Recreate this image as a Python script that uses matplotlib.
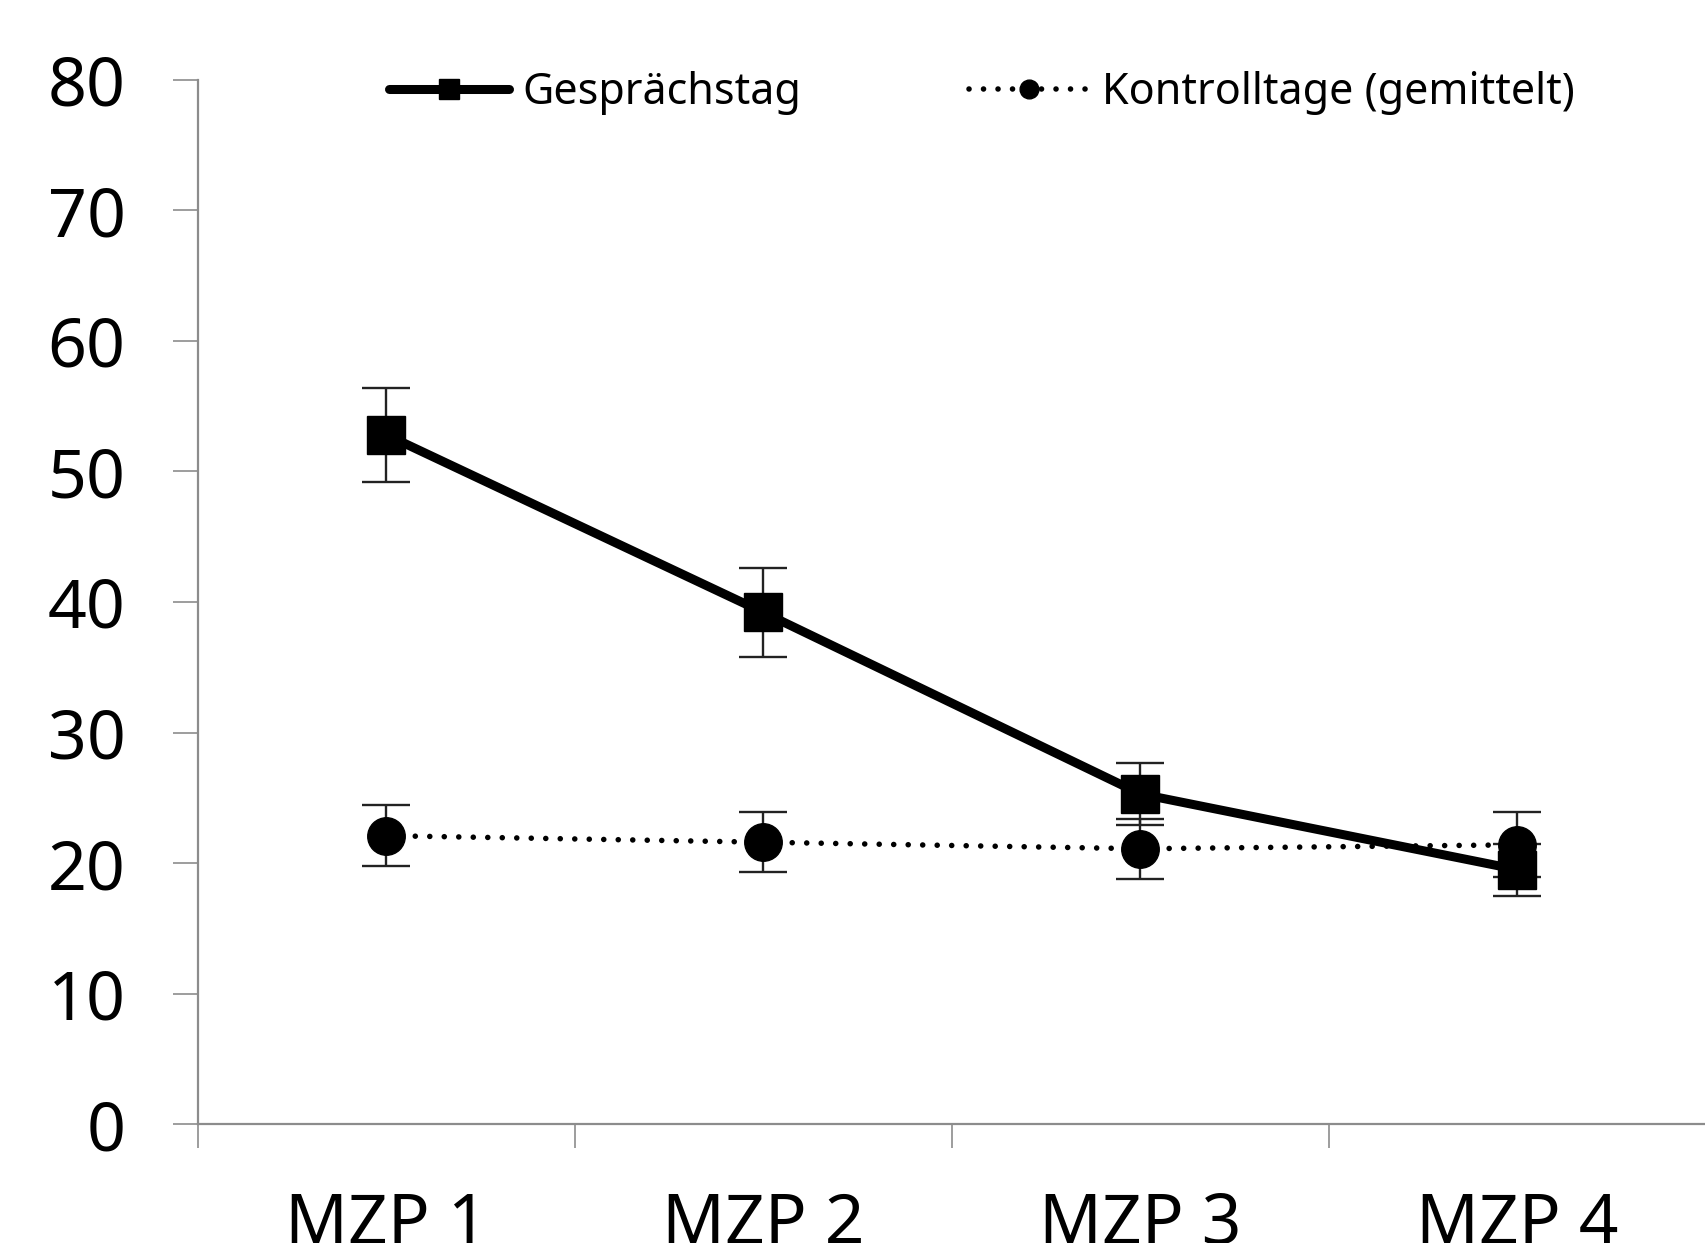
import matplotlib
matplotlib.use('Agg')
import matplotlib.pyplot as plt
import numpy as np

plt.rcParams['font.family'] = ['Noto Sans', 'DejaVu Sans']

categories = ['MZP 1', 'MZP 2', 'MZP 3', 'MZP 4']
gespraech = [52.8, 39.2, 25.3, 19.5]
gespraech_err = [3.6, 3.4, 2.4, 2.0]
kontroll = [22.1, 21.6, 21.1, 21.4]
kontroll_err = [2.35, 2.3, 2.3, 2.5]
yticks = [0, 10, 20, 30, 40, 50, 60, 70, 80]

fig = plt.figure(figsize=(17.06, 12.43), dpi=100)
ax = fig.add_axes([0.1159, 0.0955, 0.8841, 0.8405])

x = np.arange(len(categories))

ax.errorbar(x, gespraech, yerr=gespraech_err, fmt='none', ecolor='#222222',
            elinewidth=1.7, capsize=17, capthick=1.7, zorder=2)
ax.errorbar(x, kontroll, yerr=kontroll_err, fmt='none', ecolor='#222222',
            elinewidth=1.7, capsize=17, capthick=1.7, zorder=2)

ax.plot(x, kontroll, color='black', lw=4, linestyle=(0, (0.01, 2.6)),
        dash_capstyle='round', marker='o', markersize=27,
        label='Kontrolltage (gemittelt)', zorder=3)
ax.plot(x, gespraech, color='black', lw=6.5, marker='s', markersize=28,
        solid_capstyle='round', label='Gesprächstag', zorder=4)

ax.set_ylim(0, 80)
ax.set_xlim(-0.5, 3.457)
ax.set_yticks(yticks)
ax.set_xticks(x)
ax.set_xticklabels(categories)
ax.set_xticks(np.arange(-0.5, 4.0, 1.0), minor=True)

for s in ['top', 'right']:
    ax.spines[s].set_visible(False)
for s in ['left', 'bottom']:
    ax.spines[s].set_color('#8c8c8c')
    ax.spines[s].set_linewidth(1.6)

ax.tick_params(axis='y', direction='out', length=18, width=1.2, color='#8c8c8c',
               labelsize=49, pad=34)
ax.tick_params(axis='x', which='major', length=0, labelsize=50, pad=48)
ax.tick_params(axis='x', which='minor', direction='out', length=17, width=1.2,
               color='#8c8c8c')

h, l = ax.get_legend_handles_labels()
fig.legend([h[1], h[0]], [l[1], l[0]], loc='center', ncol=2,
           bbox_to_anchor=(0.5756, 0.925), frameon=False, fontsize=31,
           handlelength=2.8, handletextpad=0.3, columnspacing=3.9,
           markerscale=0.5)

fig.savefig('out.png', dpi=100)
